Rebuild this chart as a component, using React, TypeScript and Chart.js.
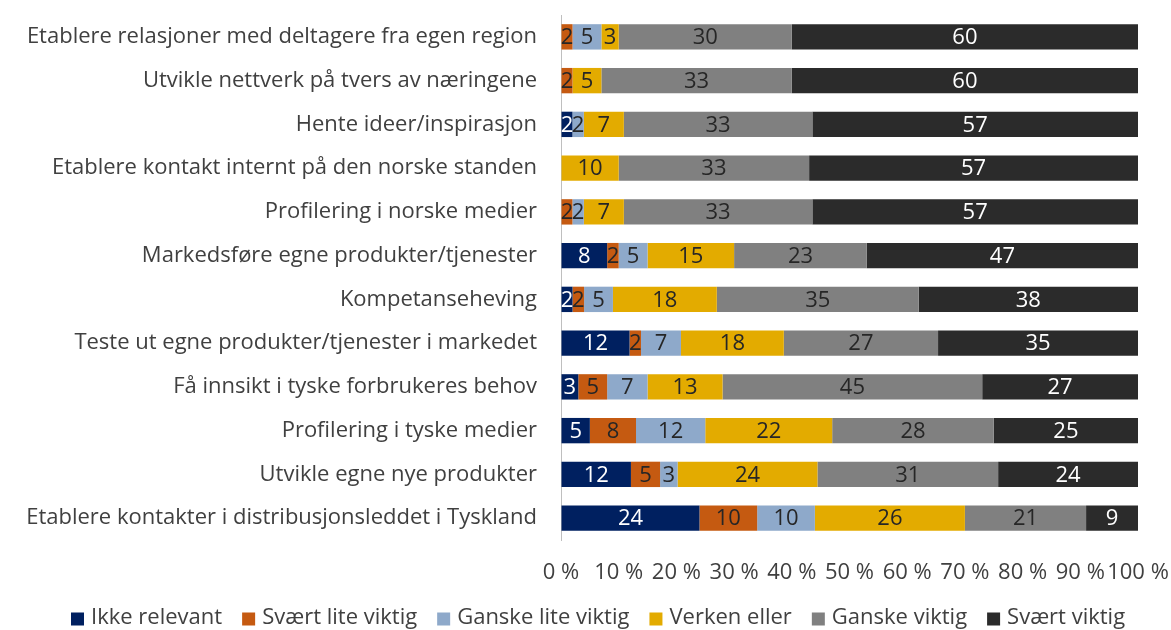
import React, { useEffect, useRef } from 'react';
import { Chart, registerables } from 'chart.js';

Chart.register(...registerables);

const categories = [
  'Etablere relasjoner med deltagere fra egen region',
  'Utvikle nettverk på tvers av næringene',
  'Hente ideer/inspirasjon',
  'Etablere kontakt internt på den norske standen',
  'Profilering i norske medier',
  'Markedsføre egne produkter/tjenester',
  'Kompetanseheving',
  'Teste ut egne produkter/tjenester i markedet',
  'Få innsikt i tyske forbrukeres behov',
  'Profilering i tyske medier',
  'Utvikle egne nye produkter',
  'Etablere kontakter i distribusjonsleddet i Tyskland',
];

const seriesNames = [
  'Ikke relevant',
  'Svært lite viktig',
  'Ganske lite viktig',
  'Verken eller',
  'Ganske viktig',
  'Svært viktig',
];

const ikkeRelevant = [0, 0, 2, 0, 0, 8, 2, 12, 3, 5, 12, 24];
const svaertLiteViktig = [2, 2, 0, 0, 2, 2, 2, 2, 5, 8, 5, 10];
const ganskeLiteViktig = [5, 0, 2, 0, 2, 5, 5, 7, 7, 12, 3, 10];
const verkenEller = [3, 5, 7, 10, 7, 15, 18, 18, 13, 22, 24, 26];
const ganskeViktig = [30, 33, 33, 33, 33, 23, 35, 27, 45, 28, 31, 21];
const svaertViktig = [60, 60, 57, 57, 57, 47, 38, 35, 27, 25, 24, 9];

const xTickLabels = ['0 %', '10 %', '20 %', '30 %', '40 %', '50 %', '60 %', '70 %', '80 %', '90 %', '100 %'];

const seriesColors = ['#002060', '#C55A11', '#8EA9CA', '#E3AB00', '#808080', '#2B2B2B'];
const valueLabelColors = ['#FFFFFF', '#262626', '#262626', '#262626', '#262626', '#FFFFFF'];

const FONT = '"Open Sans", Lato, sans-serif';
const FONT_SIZE = 22;
const TEXT_COLOR = '#404040';

const allSeries = [ikkeRelevant, svaertLiteViktig, ganskeLiteViktig, verkenEller, ganskeViktig, svaertViktig];

const valueLabelPlugin = {
  id: 'valueLabels',
  afterDatasetsDraw(chart: any) {
    const ctx = chart.ctx;
    ctx.save();
    ctx.font = `${FONT_SIZE}px ${FONT}`;
    ctx.textAlign = 'center';
    ctx.textBaseline = 'middle';
    chart.data.datasets.forEach((ds: any, di: number) => {
      const meta = chart.getDatasetMeta(di);
      meta.data.forEach((bar: any, i: number) => {
        const v = allSeries[di][i];
        if (!v) return;
        const cx = (bar.x + bar.base) / 2;
        ctx.fillStyle = valueLabelColors[di];
        ctx.fillText(String(v), cx, bar.y + 1);
      });
    });
    ctx.restore();
  },
};

const customLegendPlugin = {
  id: 'customLegend',
  afterDraw(chart: any) {
    const ctx = chart.ctx;
    ctx.save();
    ctx.font = `${FONT_SIZE}px ${FONT}`;
    ctx.textBaseline = 'middle';
    ctx.textAlign = 'left';
    const box = 13;
    const gapBoxText = 7;
    const gapItems = 20;
    const widths = seriesNames.map((n) => ctx.measureText(n).width);
    let x = 71;
    const y = 618;
    seriesNames.forEach((n, i) => {
      ctx.fillStyle = seriesColors[i];
      ctx.fillRect(x, y - box / 2 + 1, box, box);
      x += box + gapBoxText;
      ctx.fillStyle = TEXT_COLOR;
      ctx.fillText(n, x, y);
      x += widths[i] + gapItems;
    });
    ctx.restore();
  },
};

export default function App() {
  const ref = useRef<HTMLCanvasElement | null>(null);

  useEffect(() => {
    if (!ref.current) return;
    const datasets = allSeries.map((arr, si) => ({
      label: seriesNames[si],
      data: arr.map((v, i) => {
        const sum = allSeries.reduce((a, s) => a + s[i], 0);
        return (v / sum) * 100;
      }),
      backgroundColor: seriesColors[si],
      borderWidth: 0,
      categoryPercentage: 1,
      barPercentage: 0.58,
    }));
    const chart = new Chart(ref.current, {
      type: 'bar',
      data: { labels: categories, datasets },
      options: {
        indexAxis: 'y',
        responsive: false,
        animation: false,
        layout: { padding: { top: 15, right: 33, bottom: 0, left: 0 } },
        plugins: {
          legend: { display: false },
          tooltip: { enabled: false },
        },
        scales: {
          x: {
            stacked: true,
            min: 0,
            max: 100,
            grid: { display: true, drawOnChartArea: false, drawTicks: true, tickLength: 20, color: 'rgba(0,0,0,0)' },
            border: { display: false },
            ticks: {
              stepSize: 10,
              padding: 0,
              color: TEXT_COLOR,
              font: { family: FONT, size: FONT_SIZE },
              maxRotation: 0,
              autoSkip: false,
              callback: (_v: any, i: number) => xTickLabels[i],
            },
            afterFit: (s: any) => {
              s.height = 90;
            },
          },
          y: {
            stacked: true,
            grid: { display: true, drawOnChartArea: false, drawTicks: true, tickLength: 24, color: 'rgba(0,0,0,0)' },
            border: { display: true, color: '#BFBFBF', width: 1 },
            ticks: {
              padding: 0,
              color: TEXT_COLOR,
              font: { family: FONT, size: FONT_SIZE },
              autoSkip: false,
            },
            afterFit: (s: any) => {
              s.width = 561;
            },
          },
        },
      },
      plugins: [valueLabelPlugin, customLegendPlugin],
    });
    return () => chart.destroy();
  }, []);

  return (
    <div style={{ position: 'fixed', left: 0, top: 0, width: 1171, height: 630, background: '#fff' }}>
      <canvas ref={ref} width={1171} height={630} style={{ display: 'block' }} />
    </div>
  );
}
